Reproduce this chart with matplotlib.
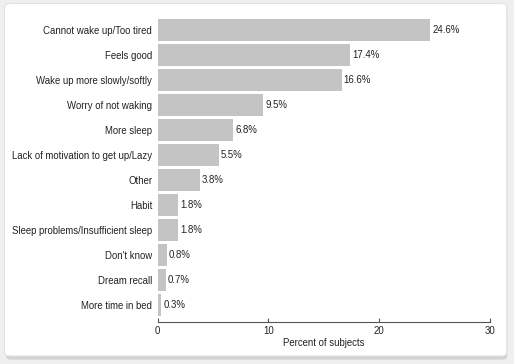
import matplotlib.pyplot as plt
from matplotlib.patches import FancyBboxPatch

# Data
labels = ["Cannot wake up/Too tired", "Feels good", "Wake up more slowly/softly",
          "Worry of not waking", "More sleep", "Lack of motivation to get up/Lazy",
          "Other", "Habit", "Sleep problems/Insufficient sleep", "Don't know",
          "Dream recall", "More time in bed"]
values = [24.6, 17.4, 16.6, 9.5, 6.8, 5.5, 3.8, 1.8, 1.8, 0.8, 0.7, 0.3]
xticks = [0, 10, 20, 30]

plt.rcParams["font.family"] = ["Liberation Sans", "DejaVu Sans"]
fs = 6.9

fig = plt.figure(figsize=(5.14, 3.64), dpi=100)
fig.patch.set_facecolor("#efefef")

# card with shadow (behind the axes)
shadow = FancyBboxPatch((0.012, 0.012), 0.975, 0.96, boxstyle="round,pad=0,rounding_size=0.01",
                        transform=fig.transFigure, facecolor="#d3d3d3", edgecolor="none", zorder=-2)
card = FancyBboxPatch((0.009, 0.022), 0.977, 0.968, boxstyle="round,pad=0,rounding_size=0.01",
                      transform=fig.transFigure, facecolor="white", edgecolor="#dddddd",
                      linewidth=0.6, zorder=-1)
fig.patches.extend([shadow, card])

ax = fig.add_axes([0.307, 0.115, 0.646, 0.836])
ax.set_facecolor("none")
ypos = list(range(len(labels)))
ax.barh(ypos, values, height=0.88, color="#c4c4c4", zorder=2)

for y, v in zip(ypos, values):
    ax.text(v + 0.2, y, f"{v}%", va="center", ha="left", fontsize=fs, color="#222222")

ax.set_yticks(ypos)
ax.set_yticklabels(labels, fontsize=fs, color="#222222")
ax.set_ylim(11.68, -0.5)
ax.set_xlim(0, 30)
ax.set_xticks(xticks)
ax.tick_params(axis="x", direction="in", length=3, color="#555555", labelsize=fs,
               labelcolor="#222222", pad=3)
ax.tick_params(axis="y", length=0, pad=4)
for s in ["top", "right", "left"]:
    ax.spines[s].set_visible(False)
ax.spines["bottom"].set_color("#555555")
ax.spines["bottom"].set_linewidth(0.8)
ax.set_xlabel("Percent of subjects", fontsize=fs, color="#222222", labelpad=1)

fig.savefig("out.png", dpi=100)
